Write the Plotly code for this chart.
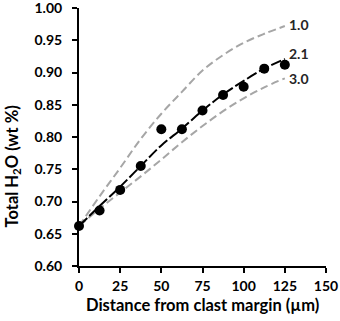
import plotly.graph_objects as go

# Measured data
dist_um = [0, 12.5, 25, 37.5, 50, 62.5, 75, 87.5, 100, 112.5, 125]
h2o_wt = [0.662, 0.686, 0.718, 0.755, 0.812, 0.812, 0.841, 0.865, 0.878, 0.906, 0.912]

# Model curves
curve_x = [0, 12.5, 25, 37.5, 50, 62.5, 75, 87.5, 100, 112.5, 125]
curve_1_0 = [0.662, 0.708, 0.752, 0.797, 0.836, 0.870, 0.903, 0.927, 0.946, 0.960, 0.972]
curve_2_1 = [0.662, 0.693, 0.723, 0.755, 0.787, 0.813, 0.841, 0.866, 0.887, 0.906, 0.921]
curve_3_0 = [0.662, 0.689, 0.714, 0.739, 0.765, 0.792, 0.817, 0.840, 0.860, 0.877, 0.891]

curve_labels = ["1.0", "2.1", "3.0"]
label_y = [0.975, 0.929, 0.891]

x_ticks = [0, 25, 50, 75, 100, 125, 150]
y_ticks = [0.60, 0.65, 0.70, 0.75, 0.80, 0.85, 0.90, 0.95, 1.00]

x_title = "<b>Distance from clast margin (µm)</b>"
y_title = "<b>Total H<sub>2</sub>O (wt %)</b>"

font_fam = "Lato"

fig = go.Figure()
grey = "#A6A6A6"
fig.add_trace(go.Scatter(x=curve_x, y=curve_1_0, mode="lines", line=dict(color=grey, width=2, dash="8px,4px", shape="spline"), cliponaxis=False))
fig.add_trace(go.Scatter(x=curve_x, y=curve_3_0, mode="lines", line=dict(color=grey, width=2, dash="8px,4px", shape="spline"), cliponaxis=False))
fig.add_trace(go.Scatter(x=curve_x, y=curve_2_1, mode="lines", line=dict(color="black", width=2, dash="11px,3px", shape="spline"), cliponaxis=False))
fig.add_trace(go.Scatter(x=dist_um, y=h2o_wt, mode="markers", marker=dict(color="black", size=10), cliponaxis=False))

for lab, ly in zip(curve_labels, label_y):
    fig.add_annotation(x=126.5, y=ly, text="<b>" + lab + "</b>", showarrow=False, xanchor="left", yanchor="middle",
                       font=dict(family=font_fam, size=14, color="#262626"))

# Axis titles as annotations to match their placement
fig.add_annotation(xref="paper", yref="paper", x=0.502, y=-0.15, text=x_title, showarrow=False,
                   xanchor="center", yanchor="middle", font=dict(family=font_fam, size=16.5, color="black"))
fig.add_annotation(xref="paper", yref="paper", x=-0.271, y=0.386, text=y_title, showarrow=False, textangle=-90,
                   xanchor="center", yanchor="middle", font=dict(family=font_fam, size=16.5, color="black"))

fig.update_layout(
    width=340, height=321,
    margin=dict(l=79, r=14, t=8, b=55),
    paper_bgcolor="white", plot_bgcolor="white",
    showlegend=False,
    font=dict(family=font_fam, color="black"),
    xaxis=dict(range=[0, 150], tickvals=x_ticks, showgrid=False, zeroline=False, automargin=False,
               showline=True, linecolor="black", linewidth=2, ticks="outside", ticklen=5, tickwidth=2,
               tickcolor="black", ticklabeloverflow="allow", ticklabelstandoff=1,
               tickfont=dict(size=14, family=font_fam, weight="bold")),
    yaxis=dict(range=[0.6, 1.0], tickvals=y_ticks, tickformat=".2f", showgrid=False, zeroline=False, automargin=False,
               showline=True, linecolor="black", linewidth=2, ticks="outside", ticklen=5, tickwidth=2,
               tickcolor="black", ticklabeloverflow="allow", ticklabelstandoff=7,
               tickfont=dict(size=14, family=font_fam, weight="bold")),
)

fig.write_html("out.html", config={"displayModeBar": False},
               post_script="document.body.style.margin='0';document.body.style.overflow='hidden';")
